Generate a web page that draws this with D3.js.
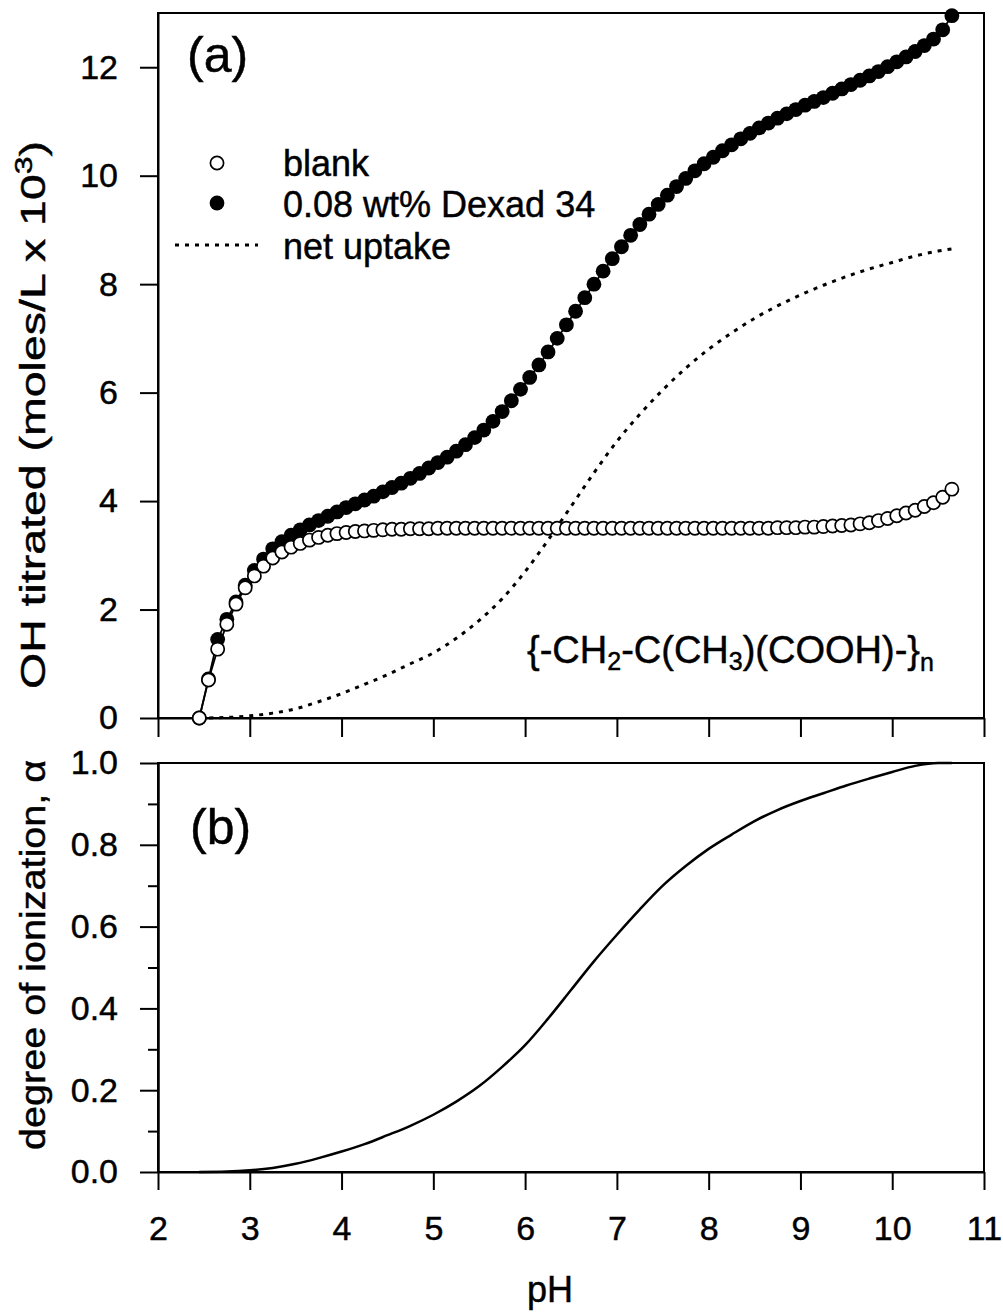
<!DOCTYPE html>
<html>
<head>
<meta charset="utf-8">
<script src="https://cdn.jsdelivr.net/npm/d3@7"></script>
<style>
  body { margin: 0; background: #fff; }
  svg { display: block; }
  text { font-family: "Liberation Sans", Arial, Helvetica, sans-serif; fill: #000; stroke: #000; stroke-width: 0.45px; }
</style>
</head>
<body>
<svg id="chart" width="1003" height="1313"></svg>
<script>
// ---- titration data -------------------------------------------------------
// pH of each titration point (both runs share the same pH grid)
const titrationPH = [
  2.45, 2.55, 2.65, 2.75, 2.85, 2.95, 3.05, 3.15, 3.25, 3.35,
  3.45, 3.55, 3.65, 3.75, 3.85, 3.95, 4.05, 4.15, 4.25, 4.35,
  4.45, 4.55, 4.65, 4.75, 4.85, 4.95, 5.05, 5.15, 5.25, 5.35,
  5.45, 5.55, 5.65, 5.75, 5.85, 5.95, 6.05, 6.15, 6.25, 6.35,
  6.45, 6.55, 6.65, 6.75, 6.85, 6.95, 7.05, 7.15, 7.25, 7.35,
  7.45, 7.55, 7.65, 7.75, 7.85, 7.95, 8.05, 8.15, 8.25, 8.35,
  8.45, 8.55, 8.65, 8.75, 8.85, 8.95, 9.05, 9.15, 9.25, 9.35,
  9.45, 9.55, 9.65, 9.75, 9.85, 9.95, 10.05, 10.15, 10.25, 10.35,
  10.45, 10.55, 10.65
];

// OH- titrated, moles/L x 10^3 : blank solution
const blankOH = [
  0.00, 0.70, 1.27, 1.73, 2.10, 2.40, 2.62, 2.80, 2.95, 3.06,
  3.15, 3.22, 3.28, 3.33, 3.37, 3.40, 3.42, 3.44, 3.45, 3.46,
  3.47, 3.48, 3.48, 3.49, 3.49, 3.49, 3.50, 3.50, 3.50, 3.50,
  3.50, 3.50, 3.50, 3.50, 3.50, 3.50, 3.50, 3.50, 3.50, 3.50,
  3.50, 3.50, 3.50, 3.50, 3.50, 3.50, 3.50, 3.50, 3.50, 3.50,
  3.50, 3.50, 3.50, 3.50, 3.50, 3.50, 3.50, 3.50, 3.50, 3.50,
  3.50, 3.50, 3.50, 3.51, 3.51, 3.51, 3.52, 3.52, 3.53, 3.54,
  3.55, 3.56, 3.58, 3.60, 3.64, 3.68, 3.73, 3.78, 3.83, 3.90,
  3.97, 4.07, 4.22
];

// OH- titrated, moles/L x 10^3 : 0.08 wt% Dexad 34
const dexadOH = [
  0.00, 0.72, 1.45, 1.82, 2.14, 2.45, 2.72, 2.93, 3.12, 3.25,
  3.37, 3.47, 3.56, 3.64, 3.72, 3.80, 3.88, 3.95, 4.02, 4.09,
  4.17, 4.25, 4.33, 4.42, 4.51, 4.61, 4.71, 4.81, 4.92, 5.04,
  5.17, 5.31, 5.47, 5.65, 5.85, 6.06, 6.28, 6.51, 6.75, 7.00,
  7.25, 7.50, 7.75, 8.00, 8.24, 8.47, 8.69, 8.90, 9.10, 9.29,
  9.47, 9.64, 9.80, 9.95, 10.09, 10.22, 10.34, 10.46, 10.57, 10.68,
  10.78, 10.88, 10.97, 11.06, 11.14, 11.22, 11.30, 11.37, 11.44, 11.52,
  11.60, 11.68, 11.76, 11.84, 11.92, 12.01, 12.10, 12.19, 12.29, 12.40,
  12.52, 12.69, 12.95
];

// smooth curves: net uptake (a) and degree of ionization (b)
const curvePH = [
  2.45, 2.75, 3.0, 3.25, 3.5, 3.75, 4.0, 4.25, 4.5, 4.75,
  5.0, 5.25, 5.5, 5.75, 6.0, 6.25, 6.5, 6.75, 7.0, 7.25,
  7.5, 7.75, 8.0, 8.25, 8.5, 8.75, 9.0, 9.25, 9.5, 9.75,
  10.0, 10.25, 10.5, 10.65
];
const netUptake = [
  0.00, 0.01, 0.04, 0.09, 0.17, 0.30, 0.45, 0.62, 0.80, 1.00,
  1.20, 1.47, 1.80, 2.20, 2.70, 3.28, 3.90, 4.52, 5.10, 5.60,
  6.05, 6.45, 6.80, 7.10, 7.37, 7.60, 7.80, 7.98, 8.14, 8.28,
  8.40, 8.52, 8.61, 8.65
];
const ionization = [
  0.000, 0.001, 0.004, 0.010, 0.020, 0.034, 0.050, 0.068, 0.090, 0.113,
  0.140, 0.172, 0.210, 0.257, 0.310, 0.375, 0.445, 0.515, 0.580, 0.642,
  0.700, 0.748, 0.790, 0.825, 0.858, 0.885, 0.907, 0.926, 0.945, 0.962,
  0.978, 0.993, 1.000, 1.000
];

// axis ticks
const pHTicks = [2, 3, 4, 5, 6, 7, 8, 9, 10, 11];
const ohTicks = [0, 2, 4, 6, 8, 10, 12];
const alphaMajorTicks = [0.0, 0.2, 0.4, 0.6, 0.8, 1.0];
const alphaMinorTicks = [0.1, 0.3, 0.5, 0.7, 0.9];

// ---- drawing --------------------------------------------------------------
const svg = d3.select("#chart");
const FS = 34;

const x = d3.scaleLinear().domain([2, 11]).range([158, 984]);
const yA = d3.scaleLinear().domain([0, 13]).range([718, 13]);
const yB = d3.scaleLinear().domain([0, 1]).range([1172, 763]);

function styleAxis(g, fontSize) {
  g.attr("font-family", null).attr("font-size", null);
  g.selectAll("path.domain").attr("stroke", "#000").attr("stroke-width", 2);
  g.selectAll(".tick line").attr("stroke", "#000").attr("stroke-width", 2);
  g.selectAll(".tick text").style("font-size", fontSize + "px");
}

// panel frames
function frame(yScale) {
  const [y0, y1] = yScale.range();
  svg.append("rect")
    .attr("x", x(2)).attr("y", y1)
    .attr("width", x(11) - x(2)).attr("height", y0 - y1)
    .attr("fill", "none").attr("stroke", "#000").attr("stroke-width", 2);
}
frame(yA);
frame(yB);

// panel (a) axes
svg.append("g").attr("transform", `translate(${x(2)},0)`)
  .call(d3.axisLeft(yA).tickValues(ohTicks).tickSize(18).tickPadding(22).tickSizeOuter(0))
  .call(g => styleAxis(g, FS));
svg.append("g").attr("transform", `translate(0,${yA(0)})`)
  .call(d3.axisBottom(x).tickValues(pHTicks).tickSize(19).tickFormat("").tickSizeOuter(0))
  .call(g => styleAxis(g, FS));

// panel (b) axes
svg.append("g").attr("transform", `translate(${x(2)},0)`)
  .call(d3.axisLeft(yB).tickValues(alphaMajorTicks).tickSize(18).tickPadding(22)
    .tickFormat(d3.format(".1f")).tickSizeOuter(0))
  .call(g => styleAxis(g, FS));
svg.append("g").attr("transform", `translate(${x(2)},0)`)
  .call(d3.axisLeft(yB).tickValues(alphaMinorTicks).tickSize(10).tickFormat("").tickSizeOuter(0))
  .call(g => styleAxis(g, FS));
svg.append("g").attr("transform", `translate(0,${yB(0)})`)
  .call(d3.axisBottom(x).tickValues(pHTicks).tickSize(18).tickPadding(26).tickSizeOuter(0))
  .call(g => styleAxis(g, FS));

// ---- panel (a) series ----
const blankPts = titrationPH.map((p, i) => ({ p, v: blankOH[i] }));
const dexadPts = titrationPH.map((p, i) => ({ p, v: dexadOH[i] }));
const netPts = curvePH.map((p, i) => ({ p, v: netUptake[i] }));
const alphaPts = curvePH.map((p, i) => ({ p, v: ionization[i] }));

const lineA = d3.line().x(d => x(d.p)).y(d => yA(d.v));
const smoothA = d3.line().curve(d3.curveMonotoneX).x(d => x(d.p)).y(d => yA(d.v));
const smoothB = d3.line().curve(d3.curveMonotoneX).x(d => x(d.p)).y(d => yB(d.v));

// net uptake, dotted
svg.append("path").datum(netPts).attr("d", smoothA)
  .attr("fill", "none").attr("stroke", "#000").attr("stroke-width", 3)
  .attr("stroke-dasharray", "4,6");

// connecting lines behind the symbols
svg.append("path").datum(dexadPts).attr("d", lineA)
  .attr("fill", "none").attr("stroke", "#000").attr("stroke-width", 1.8);
svg.append("path").datum(blankPts).attr("d", lineA)
  .attr("fill", "none").attr("stroke", "#000").attr("stroke-width", 1.8);

// Dexad 34 filled symbols
svg.append("g").selectAll("circle").data(dexadPts).join("circle")
  .attr("cx", d => x(d.p)).attr("cy", d => yA(d.v)).attr("r", 7.4)
  .attr("fill", "#000");

// blank open symbols (drawn on top)
svg.append("g").selectAll("circle").data(blankPts).join("circle")
  .attr("cx", d => x(d.p)).attr("cy", d => yA(d.v)).attr("r", 6.6)
  .attr("fill", "#fff").attr("stroke", "#000").attr("stroke-width", 1.7);

// ---- panel (b) curve ----
svg.append("path").datum(alphaPts).attr("d", smoothB)
  .attr("fill", "none").attr("stroke", "#000").attr("stroke-width", 2.5);

// ---- legend ----
const legend = svg.append("g");
legend.append("circle").attr("cx", 217).attr("cy", 163).attr("r", 6.6)
  .attr("fill", "#fff").attr("stroke", "#000").attr("stroke-width", 1.7);
legend.append("text").attr("x", 283).attr("y", 176).style("font-size", "36px").text("blank");
legend.append("circle").attr("cx", 217).attr("cy", 203).attr("r", 7.4).attr("fill", "#000");
legend.append("text").attr("x", 283).attr("y", 217).style("font-size", "36px").text("0.08 wt% Dexad 34");
legend.append("line").attr("x1", 175).attr("x2", 258).attr("y1", 245).attr("y2", 245)
  .attr("stroke", "#000").attr("stroke-width", 3).attr("stroke-dasharray", "4,6");
legend.append("text").attr("x", 283).attr("y", 259).style("font-size", "36px").text("net uptake");

// ---- panel labels ----
svg.append("text").attr("x", 187).attr("y", 72).style("font-size", "50px").text("(a)");
svg.append("text").attr("x", 190).attr("y", 844).style("font-size", "50px").text("(b)");

// repeat unit of the polymer
const formula = svg.append("text").attr("x", 527).attr("y", 663).style("font-size", "38px");
formula.append("tspan").text("{-CH");
formula.append("tspan").attr("dy", 7).style("font-size", "25px").text("2");
formula.append("tspan").attr("dy", -7).text("-C(CH");
formula.append("tspan").attr("dy", 7).style("font-size", "25px").text("3");
formula.append("tspan").attr("dy", -7).text(")(COOH)-}");
formula.append("tspan").attr("dy", 8).style("font-size", "25px").text("n");

// ---- axis titles ----
const titleA = svg.append("text")
  .attr("transform", "translate(45,415) rotate(-90)")
  .attr("text-anchor", "middle").style("font-size", "35px")
  .attr("textLength", 548).attr("lengthAdjust", "spacingAndGlyphs");
titleA.append("tspan").text("OH titrated (moles/L x 10");
titleA.append("tspan").attr("dy", -13).style("font-size", "24px").text("3");
titleA.append("tspan").attr("dy", 13).text(")");

svg.append("text")
  .attr("transform", "translate(45,955) rotate(-90)")
  .attr("text-anchor", "middle").style("font-size", "35px")
  .attr("textLength", 390).attr("lengthAdjust", "spacingAndGlyphs")
  .text("degree of ionization, α");

svg.append("text").attr("x", 550).attr("y", 1302)
  .attr("text-anchor", "middle").style("font-size", "36px").text("pH");
</script>
</body>
</html>
